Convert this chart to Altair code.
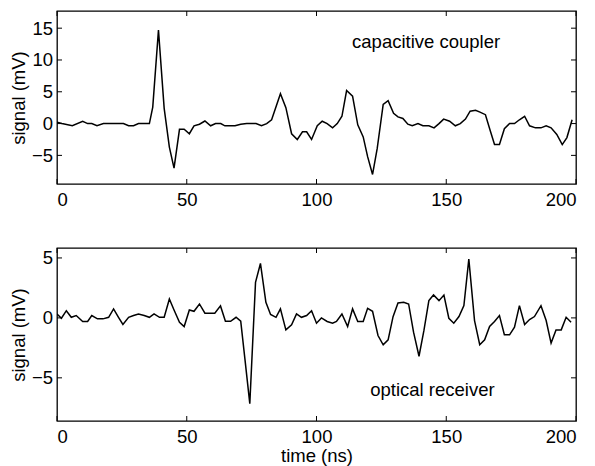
import altair as alt
import pandas as pd

# ---- data ----
cap_t = [0, 1.9, 5.9, 9.9, 11.8, 13.4, 15.4, 17.9, 19.9, 21.8, 23.7, 25.6, 27.6, 29.5, 31.4, 33.5,
         35.6, 36.9, 39.1, 41.3, 43.3, 45.1, 47.2, 49.0, 51.0, 52.8, 54.9, 57.0, 59.2, 61.1, 63.1,
         64.7, 66.7, 68.6, 70.8, 73.1, 75.0, 76.7, 78.8, 80.8, 82.7, 86.1, 88.2, 90.4, 92.6, 94.6,
         96.2, 98.1, 100.3, 102.2, 104.1, 106.2, 108.0, 109.8, 111.6, 113.9, 115.9, 118.0, 119.7,
         121.6, 123.4, 125.7, 127.6, 129.7, 131.4, 133.3, 135.2, 136.9, 139.1, 141.0, 143.3, 145.3,
         147.2, 149.0, 151.3, 153.5, 155.4, 157.4, 159.2, 161.3, 163.0, 165.1, 166.9, 168.6, 170.5,
         172.4, 174.4, 176.3, 178.2, 180.2, 182.1, 184.4, 186.5, 188.5, 190.4, 192.6, 194.7, 196.5,
         198.5]
cap_v = [0.2, 0, -0.35, 0.37, 0, 0, -0.35, 0, 0, 0, 0, 0, -0.35, -0.35, 0, 0,
         0, 2.6, 14.7, 2.4, -3.7, -7.0, -0.9, -0.9, -1.6, -0.35, -0.1, 0.4, -0.35, 0, 0,
         -0.35, -0.35, -0.35, -0.1, 0, 0, 0, -0.35, 0, 0.6, 4.7, 2.5, -1.6, -2.5, -1.3,
         -1.3, -2.5, -0.35, 0.37, 0, -0.67, 0, 1.15, 5.2, 4.3, -0.2, -2.1, -5.2,
         -8.0, -3.9, 3.0, 3.6, 1.6, 1.05, 0.8, -0.1, -0.35, 0, -0.35, -0.35, -0.67,
         0, 0.7, 0.37, -0.35, 0, 0.7, 1.95, 2.1, 1.8, 1.4, -1.05, -3.3, -3.3,
         -0.8, 0, 0, 0.6, 1.15, -0.35, -0.67, -0.67, -0.35, -0.67, -1.7, -3.3, -2.2,
         0.6]

opt_t = [0, 1.7, 3.6, 5.5, 7.4, 9.9, 11.8, 13.4, 15.6, 17.7, 19.9, 21.8, 23.7, 25.4, 27.6, 29.5,
         31.4, 33.6, 35.6, 37.4, 39.5, 41.3, 43.3, 45.1, 47.2, 49.0, 51.0, 52.8, 54.9, 57.0, 59.2,
         60.8, 63.0, 64.9, 66.9, 69.0, 70.8, 72.4, 74.3, 76.5, 78.4, 80.5, 82.3, 84.4, 86.1, 88.2,
         90.4, 92.3, 94.2, 96.2, 98.1, 100.0, 101.9, 104.1, 106.2, 107.7, 109.8, 112.0, 113.9,
         115.9, 118.0, 119.7, 121.6, 123.7, 125.7, 127.6, 129.5, 131.4, 133.6, 135.5, 137.4, 139.5,
         141.4, 143.3, 145.1, 147.2, 149.1, 151.0, 152.9, 154.9, 156.8, 158.7, 160.9, 162.9, 164.8,
         166.7, 168.6, 170.5, 172.4, 174.4, 176.3, 178.2, 180.2, 182.1, 184.0, 186.5, 188.5, 190.4,
         192.3, 194.3, 196.2, 198.1]
opt_v = [0.33, -0.03, 0.6, 0.05, 0.2, -0.3, -0.3, 0.2, -0.08, -0.08, 0.05, 0.75, 0.05, -0.55, 0.05, 0.2,
         0.33, 0.2, 0.05, 0.33, 0.05, 0.05, 1.58, 0.66, -0.36, -0.72, 0.66, 0.55, 1.16, 0.39, 0.39,
         0.39, 1.0, -0.28, -0.28, 0.05, -0.28, -3.4, -7.15, 2.96, 4.54, 1.3, 0.28, 0.05, 0.75, -1.0,
         -0.58, 0.33, 0.05, 0.2, 0.6, -0.44, 0, -0.3, -0.44, -0.3, 0.33, -0.72, 0.75,
         -0.3, -0.3, 0.8, 0.55, -1.47, -2.24, -1.83, 0.1, 1.25, 1.3, 1.16, -1.19, -3.2,
         -1.05, 1.44, 1.91, 1.44, 1.91, -0.03, -0.44, 0.11, 1.02, 4.9, -0.22, -2.24, -1.83,
         -0.72, -0.3, 0.2, -1.41, -1.41, -0.78, 1.02, -0.55, -0.14, 0.11, 1.02, -0.22, -2.1,
         -1.0, -1.0, 0.05, -0.36]

x_ticks = [0, 50, 100, 150, 200]
cap_y_ticks = [-5, 0, 5, 10, 15]
opt_y_ticks = [-5, 0, 5]
cap_domain = [-9.5, 17.7]
opt_domain = [-8.6, 5.83]
x_domain = [0, 200]

W, H = 519, 173
FONT = "Liberation Sans"
FS = 18.5
TL = 5  # tick length (inward)


def panel(t, v, y_ticks, y_domain, label, lx, ly, show_xtitle):
    df = pd.DataFrame({"t": t, "v": v})
    xs = alt.Scale(domain=x_domain, nice=False, zero=False)
    ys = alt.Scale(domain=y_domain, nice=False, zero=False)
    x_axis = alt.Axis(values=x_ticks, ticks=False, tickSize=0, domain=False, grid=False,
                      labelPadding=6, labelFontSize=FS, labelFont=FONT, labelColor="black",
                      title="time (ns)" if show_xtitle else None,
                      titleFontSize=FS, titleFont=FONT, titleFontWeight="normal",
                      titleColor="black", titlePadding=1)
    y_axis = alt.Axis(values=y_ticks, ticks=False, tickSize=0, domain=False, grid=False,
                      labelPadding=4.5, labelFontSize=FS, labelFont=FONT, labelColor="black",
                      title="signal (mV)", titleFontSize=FS, titleFont=FONT,
                      titleFontWeight="normal", titleColor="black",
                      titleX=-39, titleBaseline="middle")
    line = alt.Chart(df).mark_line(color="black", strokeWidth=1.5, clip=True).encode(
        x=alt.X("t:Q", scale=xs, axis=x_axis),
        y=alt.Y("v:Q", scale=ys, axis=y_axis),
    )
    ydf = pd.DataFrame({"yt": y_ticks})
    xdf = pd.DataFrame({"xt": x_ticks})
    yl = alt.Chart(ydf).mark_rule(color="black", strokeWidth=1).encode(
        y=alt.Y("yt:Q", scale=ys), x=alt.value(0), x2=alt.value(TL))
    yr = alt.Chart(ydf).mark_rule(color="black", strokeWidth=1).encode(
        y=alt.Y("yt:Q", scale=ys), x=alt.value(W - TL), x2=alt.value(W))
    xb = alt.Chart(xdf).mark_rule(color="black", strokeWidth=1).encode(
        x=alt.X("xt:Q", scale=xs), y=alt.value(H - TL), y2=alt.value(H))
    xt = alt.Chart(xdf).mark_rule(color="black", strokeWidth=1).encode(
        x=alt.X("xt:Q", scale=xs), y=alt.value(0), y2=alt.value(TL))
    tdf = pd.DataFrame({"x": [lx], "y": [ly], "s": [label]})
    txt = alt.Chart(tdf).mark_text(align="left", baseline="alphabetic", font=FONT,
                                   fontSize=FS, color="black").encode(
        x=alt.X("x:Q", scale=xs), y=alt.Y("y:Q", scale=ys), text="s:N")
    return alt.layer(line, yl, yr, xb, xt, txt).properties(width=W, height=H)


top = panel(cap_t, cap_v, cap_y_ticks, cap_domain, "capacitive coupler", 113.7, 11.94, False)
bot = panel(opt_t, opt_v, opt_y_ticks, opt_domain, "optical receiver", 120.7, -6.52, True)

chart = alt.vconcat(top, bot, spacing=64, bounds="flush").properties(
    padding={"left": 0, "top": 1, "right": 5, "bottom": 5},
    background="white",
).configure_view(stroke="black", strokeWidth=1.3)

chart.save("out.html", embed_options={"renderer": "svg", "actions": False})
